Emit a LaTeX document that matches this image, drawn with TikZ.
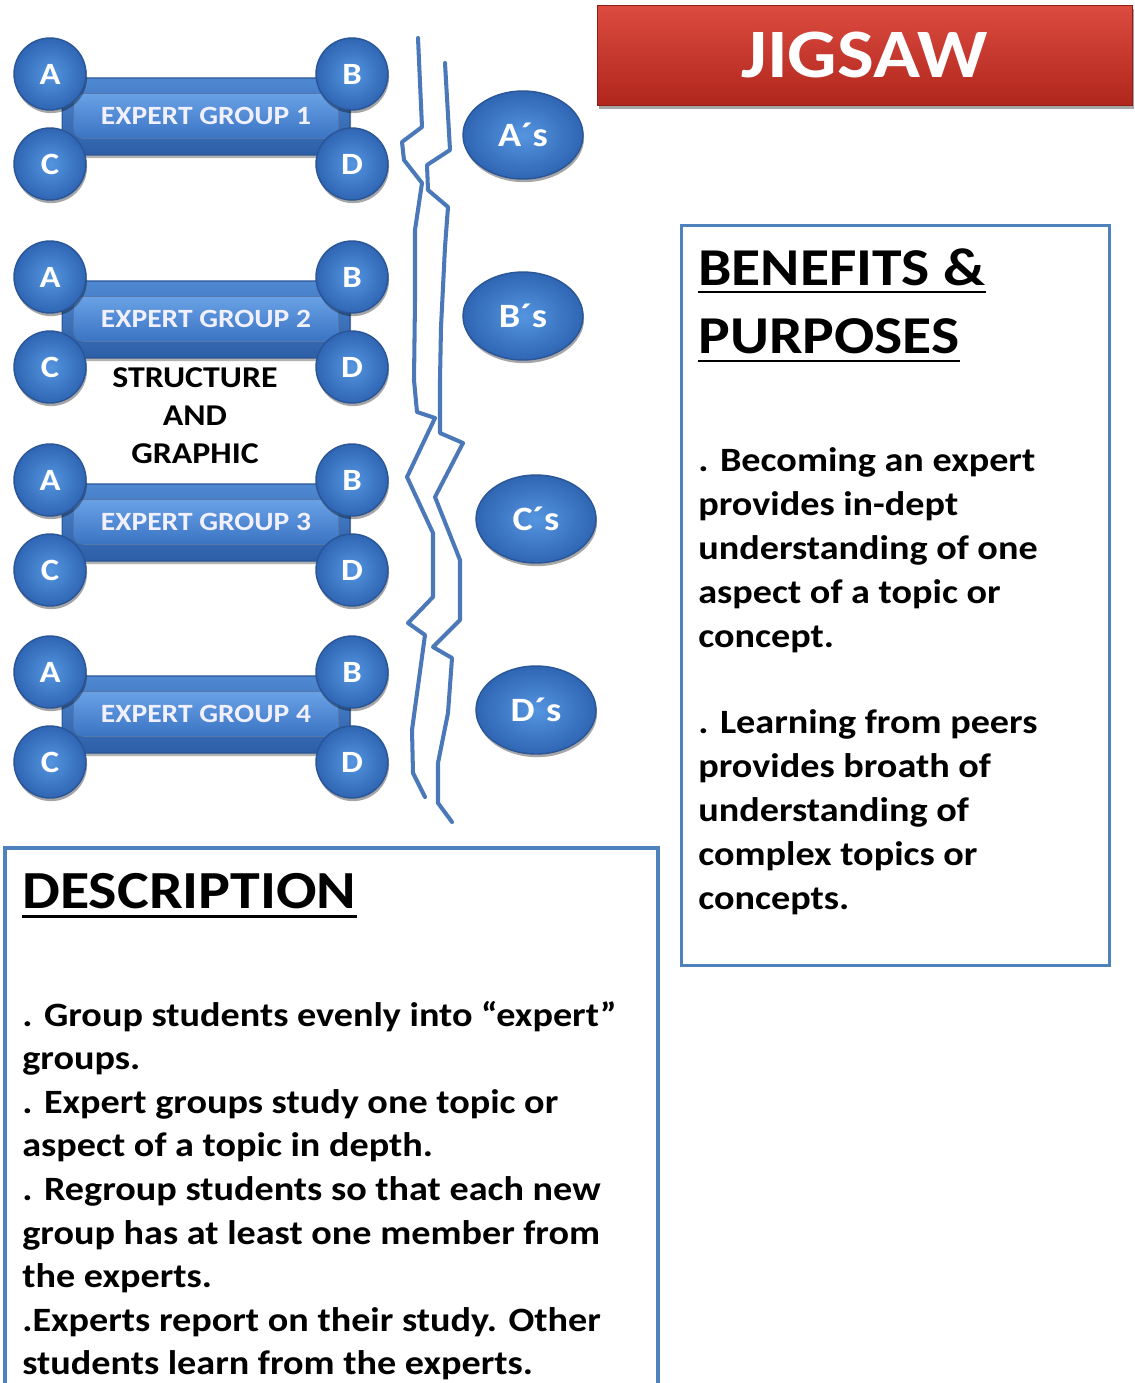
\documentclass[tikz,border=0pt]{standalone}
\usepackage{fontspec}
\setmainfont{Carlito}[FakeStretch=1.12]
\usetikzlibrary{shadows,calc,shapes.geometric}
\definecolor{ballin}{HTML}{5595E0}
\definecolor{ballout}{HTML}{2F66B4}
\definecolor{balledge}{HTML}{2A5596}
\definecolor{bartop}{HTML}{4F89D2}
\definecolor{barbot}{HTML}{2C5EA6}
\definecolor{intop}{HTML}{6AA2E6}
\definecolor{inbot}{HTML}{3A73C2}
\definecolor{wavecol}{HTML}{4A78B8}
\definecolor{panelcol}{HTML}{4F81BD}
\definecolor{redtop}{HTML}{DC4B40}
\definecolor{redbot}{HTML}{B0261C}
\begin{document}
\begin{tikzpicture}[x=0.02cm,y=-0.02cm,
  member/.style={circle, minimum size=1.44cm, inner sep=0pt,
    shading=radial, inner color=ballin, outer color=ballout,
    draw=balledge, line width=0.8pt, text=white,
    font=\bfseries\fontsize{17.6}{20}\selectfont,
    drop shadow={shadow xshift=0.6pt, shadow yshift=-1.8pt, opacity=0.35, fill=black}},
  barout/.style={rectangle, rounded corners=3pt, minimum width=5.76cm, minimum height=1.54cm,
    top color=bartop, bottom color=barbot, draw=balledge, line width=0.6pt,
    drop shadow={shadow xshift=0.6pt, shadow yshift=-1.8pt, opacity=0.3, fill=black}},
  barin/.style={rectangle, rounded corners=6pt, minimum width=5.3cm, minimum height=0.9cm,
    top color=intop, bottom color=inbot, draw=balledge!80, line width=0.4pt,
    text=white!94!blue, font=\bfseries\fontsize{15}{18}\selectfont, inner sep=0pt},
  grpell/.style={ellipse, minimum width=2.4cm, minimum height=1.76cm, inner sep=0pt,
    shading=radial, inner color=ballin, outer color=ballout,
    draw=balledge, line width=0.8pt, text=white,
    font=\bfseries\fontsize{19.4}{22}\selectfont,
    drop shadow={shadow xshift=0.6pt, shadow yshift=-1.8pt, opacity=0.35, fill=black}},
  wave/.style={draw=wavecol, line width=2.3pt, line join=round, line cap=round},
  panel/.style={draw=panelcol, line width=1.9pt, fill=white, inner sep=0pt},
  head/.style={inner sep=0pt, font=\bfseries\fontsize{30.3}{34}\selectfont},
  bodytxt/.style={inner sep=0pt, font=\bfseries\fontsize{19.4}{25}\selectfont},
  midtxt/.style={inner sep=0pt, font=\bfseries\fontsize{17.2}{21}\selectfont},
  uline/.style={line width=1.7pt, black}
]
\useasboundingbox (0,0) rectangle (1134,1383);
\fill[white] (0,0) rectangle (1134,1383);

% title
\node[rectangle, minimum width=10.7cm, minimum height=2cm, top color=redtop, bottom color=redbot,
  draw=redbot!80!black, line width=0.5pt, text=white,
  font=\bfseries\fontsize{39.5}{46}\selectfont,
  drop shadow={shadow xshift=1pt, shadow yshift=-2pt, opacity=0.35, fill=black}]
  (title) at (864.5,55) {JIGSAW};

% expert groups
\foreach \i/\y in {1/74,2/277,3/480,4/672}{
  \node[barout] (bar\i) at (206,\y+42.5) {};
  \node[barin] (g\i) at (206,\y+42) {EXPERT GROUP \i};
  \node[member] (a\i) at (50,\y) {A};
  \node[member] (b\i) at (352,\y) {B};
  \node[member] (c\i) at (50,\y+90) {C};
  \node[member] (d\i) at (352,\y+90) {D};
}

% structure text
\node[midtxt, anchor=base] (st1) at (195,387) {STRUCTURE};
\node[midtxt, anchor=base] (st2) at (195,425) {AND};
\node[midtxt, anchor=base] (st3) at (195,463) {GRAPHIC};

% wavy lines
\draw[wave] (418,38) -- (422,127) -- (402,142) -- (404,160) -- (422,183) -- (415,230)
  -- (415,300) -- (414,380) -- (417,412) -- (435,418) -- (407,477) -- (433,533)
  -- (433,597) -- (408,623) -- (425,635) -- (412,730) -- (413,773) -- (425,797);
\draw[wave] (445,63) -- (450,150) -- (427,165) -- (428,190) -- (448,207) -- (445,247)
  -- (441,327) -- (440,380) -- (440,433) -- (463,443) -- (435,497) -- (460,560)
  -- (460,620) -- (433,647) -- (452,658) -- (448,713) -- (438,763) -- (438,803) -- (452,822);

% home groups
\node[grpell] (as) at (523,135) {A´s};
\node[grpell] (bs) at (523,316) {B´s};
\node[grpell] (cs) at (536,519) {C´s};
\node[grpell] (ds) at (536,710) {D´s};

% benefits panel
\node[panel, anchor=north west, minimum width=8.56cm, minimum height=14.8cm] (benbox) at (680,224) {};
\node[head, anchor=base west] (benh1) at (698,285) {BENEFITS \&};
\node[head, anchor=base west] (benh2) at (698,353) {PURPOSES};
\draw[uline] ($(benh1.base west)+(0,7)$) -- ($(benh1.base east)+(0,7)$);
\draw[uline] ($(benh2.base west)+(0,8)$) -- ($(benh2.base east)+(0,8)$);
\foreach \t [count=\k from 0] in {. Becoming an expert, provides in-dept, understanding of one, aspect of a topic or, concept.}
  \node[bodytxt, anchor=base west] (bena\k) at (698,471+44*\k) {\t};
\foreach \t [count=\k from 0] in {. Learning from peers, provides broath of, understanding of, complex topics or, concepts.}
  \node[bodytxt, anchor=base west] (benb\k) at (698,733+44*\k) {\t};

% description panel (cut at bottom)
\draw[draw=panelcol, line width=1.9pt] (5,1390) -- (5,848) -- (658,848) -- (658,1390);
\node[head, anchor=base west, font=\bfseries\fontsize{30.5}{34}\selectfont] (desch) at (22,908) {DESCRIPTION};
\draw[uline] ($(desch.base west)+(0,8)$) -- ($(desch.base east)+(0,8)$);
\foreach \t [count=\k from 0] in {. Group students evenly into “expert”, groups., . Expert groups study one topic or, aspect of a topic in depth., . Regroup students so that each new, group has at least one member from, the experts., .Experts report on their study. Other, students learn from the experts.}
  \node[bodytxt, anchor=base west] (desc\k) at (22,1026+43.6*\k) {\t};
\end{tikzpicture}
\end{document}
